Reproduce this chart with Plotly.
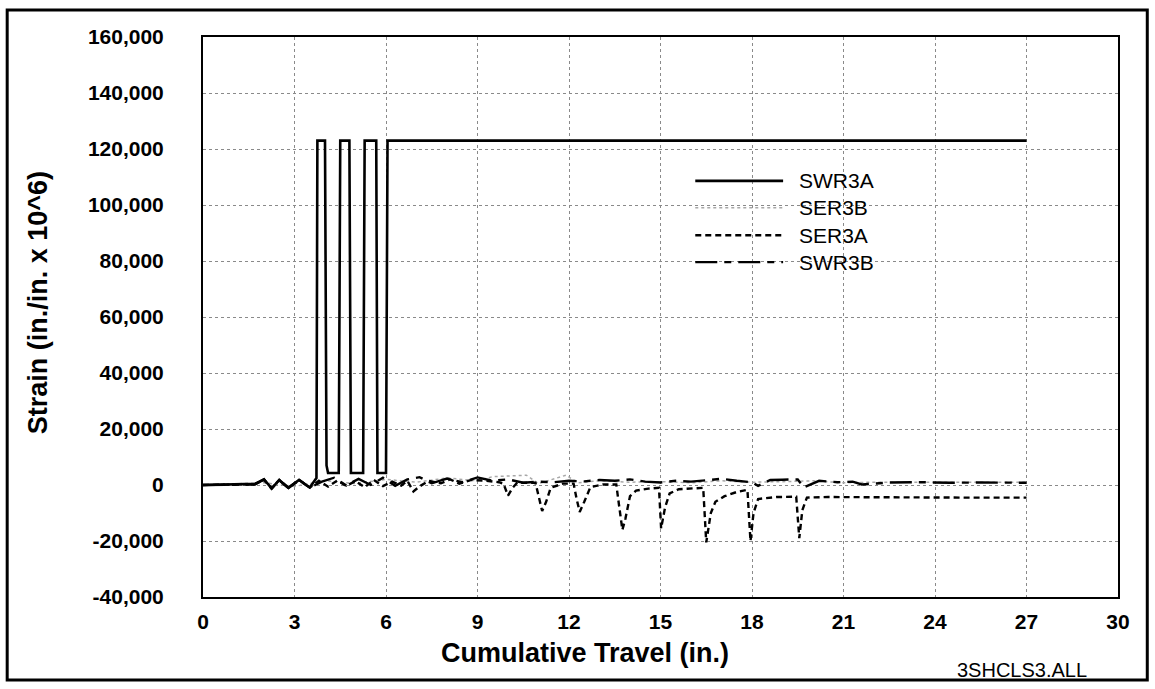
import plotly.graph_objects as go

# Data
swr3a_x = [0, 0.6, 1.2, 1.7, 2.0, 2.25, 2.5, 2.8, 3.15, 3.5, 3.72, 3.75, 4.0, 4.05, 4.1, 4.45,
           4.5, 4.8, 4.85, 5.25, 5.3, 5.68, 5.72, 6.0, 6.05, 27.0]
swr3a_y = [0, 100, 300, 400, 2000, -1200, 1800, -1000, 1800, -900, 2500, 123000, 123000, 7000,
           4300, 4300, 123000, 123000, 4300, 4300, 123000, 123000, 4300, 4300, 123000, 123000]

ser3b_x = [0, 2, 3, 4, 5, 6, 7, 8, 9, 9.5, 10.6, 11.0, 11.9, 12.3, 13, 14, 15, 16, 17, 18,
           19, 20, 21, 22, 24, 27]
ser3b_y = [0, 800, -500, 1500, 500, 2000, 1000, 2500, 1500, 3000, 3500, 500, 3500, 800, 1500,
           1000, 1200, 800, 1500, 1000, 1200, 1500, 800, 1000, 1000, 1000]

ser3a_x = [0, 1.7, 2.0, 2.25, 2.5, 2.8, 3.15, 3.5, 3.8, 4.1, 4.4, 4.7, 5.0, 5.3, 5.6, 5.9, 6.2,
           6.5, 6.7, 6.9, 7.1, 7.4, 7.8, 8.1, 8.4, 8.8, 9.3, 9.7,
           9.85, 10.0, 10.15, 10.3, 10.9, 11.0, 11.12, 11.25, 11.4, 11.8,
           12.15, 12.25, 12.35, 12.5, 12.7, 13.1, 13.55, 13.65, 13.75, 13.85, 14.0, 14.2,
           14.6, 14.95, 15.02, 15.15, 15.3, 15.6, 16.0, 16.4, 16.5, 16.65, 16.8, 17.1, 17.5,
           17.85, 17.95, 18.05, 18.2, 18.8, 19.45, 19.55, 19.65, 19.8, 20.5, 21.5, 23, 25, 27]
ser3a_y = [0, 300, 1800, -1200, 1800, -1000, 1800, -900, 1500, -600, 1600, -300, 1400, -800,
           1800, -400, 1200, -200, 1500, -2300, -500, 1500, 600, 2000, 500, 1800, 1500, 1000,
           500, -3800, -1000, 800, 800, -4000, -9300, -6000, -1000, 500,
           500, -5000, -9600, -6000, -800, 200, 200, -8000, -16000, -12000, -4000, -2000,
           -1300, -1000, -15500, -8000, -3000, -1500, -1200, -1000, -20500, -10000, -6000,
           -4000, -2500, -1700, -20000, -10000, -5000, -4300, -4200, -19000, -9000, -4500,
           -4300, -4400, -4500, -4500, -4500]

swr3b_x = [0, 1.7, 2.0, 2.25, 2.5, 2.8, 3.15, 3.5, 3.9, 4.3, 4.7, 5.1, 5.5, 5.9, 6.3, 6.7, 7.1,
           7.5, 8.0, 8.5, 9.0, 9.5, 10.0, 10.5, 11.0, 11.5, 12.0, 12.5, 13.0, 13.5, 14.0, 14.5,
           15.0, 15.5, 16.0, 16.5, 17.0, 17.5, 18.0, 18.2, 18.6, 19.0, 19.5, 19.7, 20.2, 20.8,
           21.3, 21.6, 22.5, 23.5, 24.5, 25.5, 27]
swr3b_y = [0, 200, 2000, -1300, 1700, -1100, 1700, -1000, 1200, 2600, -200, 2200, 0, 2600,
           -300, 2000, 2800, 600, 2300, 1000, 2700, 1500, 2000, 800, 1200, 1000, 1500, 1300,
           1800, 1500, 2000, 1200, 900, 1500, 1200, 1800, 2200, 1500, 1000, -300, 1800, 1900,
           2000, -800, 1500, 1000, 1200, 200, 900, 1000, 800, 900, 800]

x_ticks = [0, 3, 6, 9, 12, 15, 18, 21, 24, 27, 30]
y_ticks = [-40000, -20000, 0, 20000, 40000, 60000, 80000, 100000, 120000, 140000, 160000]
y_tick_text = ["-40,000", "-20,000", "0", "20,000", "40,000", "60,000", "80,000",
               "100,000", "120,000", "140,000", "160,000"]

series_names = ["SWR3A", "SER3B", "SER3A", "SWR3B"]

font_family = "Arial, Liberation Sans, sans-serif"

styles = {
    "SWR3A": dict(color="black", width=2.6, dash="solid"),
    "SER3B": dict(color="#a8a8a8", width=1.5, dash="dot"),
    "SER3A": dict(color="black", width=2.4, dash="6px,4px"),
    "SWR3B": dict(color="black", width=2.4, dash="22px,7px,7px,7px"),
}
series_data = {
    "SWR3A": (swr3a_x, swr3a_y),
    "SER3B": (ser3b_x, ser3b_y),
    "SER3A": (ser3a_x, ser3a_y),
    "SWR3B": (swr3b_x, swr3b_y),
}

fig = go.Figure()
for name in ["SER3B", "SWR3B", "SER3A", "SWR3A"]:
    xs, ys = series_data[name]
    fig.add_trace(go.Scatter(x=xs, y=ys, mode="lines", name=name,
                             line=styles[name], showlegend=False))

# hand-drawn legend (long line samples like the original)
shapes = []
annotations = []
row_y = [0.743, 0.695, 0.646, 0.598]
for name, yy in zip(series_names, row_y):
    st = styles[name]
    shapes.append(dict(type="line", xref="paper", yref="paper", x0=0.538, x1=0.634,
                       y0=yy, y1=yy, line=dict(color=st["color"], width=st["width"],
                                               dash=st["dash"])))
    annotations.append(dict(text=name, xref="paper", yref="paper", x=0.650, y=yy,
                            xanchor="left", yanchor="middle", showarrow=False, borderpad=0,
                            font=dict(family=font_family, size=21, color="black")))

# outer frame around the whole chart
shapes.append(dict(type="rect", xref="paper", yref="paper", x0=-0.214, x1=1.032,
                   y0=-0.148, y1=1.048, line=dict(color="black", width=3)))

annotations.append(dict(text="<b>Cumulative Travel (in.)</b>", xref="paper", yref="paper",
                        x=0.418, y=-0.100, xanchor="center", yanchor="middle", showarrow=False,
                        font=dict(family=font_family, size=27, color="black")))
annotations.append(dict(text="<b>Strain (in./in. x 10^6)</b>", xref="paper", yref="paper",
                        x=-0.180, y=0.525, xanchor="center", yanchor="middle", showarrow=False,
                        textangle=-90, font=dict(family=font_family, size=27, color="black")))
annotations.append(dict(text="3SHCLS3.ALL", xref="paper", yref="paper",
                        x=0.895, y=-0.130, xanchor="center", yanchor="middle", showarrow=False,
                        font=dict(family=font_family, size=20, color="black")))

fig.update_layout(
    width=1155, height=689,
    margin=dict(l=203, r=37, t=37, b=92),
    paper_bgcolor="white", plot_bgcolor="white",
    shapes=shapes, annotations=annotations,
    font=dict(family=font_family, color="black"),
)
fig.update_xaxes(range=[0, 30], tickvals=x_ticks, ticktext=[f"<b>{v}</b>" for v in x_ticks],
                 showline=True, mirror=True, linecolor="black", linewidth=2,
                 showgrid=True, gridcolor="#8a8a8a", griddash="dot", gridwidth=1,
                 zeroline=False, ticks="", ticklabelstandoff=5,
                 tickfont=dict(family=font_family, size=21, color="black"))
fig.update_yaxes(range=[-40000, 160000], tickvals=y_ticks,
                 ticktext=[f"<b>{t}</b>" for t in y_tick_text],
                 showline=True, mirror=True, linecolor="black", linewidth=2,
                 showgrid=True, gridcolor="#8a8a8a", griddash="dot", gridwidth=1,
                 zeroline=False, ticks="", ticklabelstandoff=33,
                 tickfont=dict(family=font_family, size=21, color="black"))

fig.write_html("out.html", config={"displayModeBar": False},
               post_script="document.body.style.margin='0';")
